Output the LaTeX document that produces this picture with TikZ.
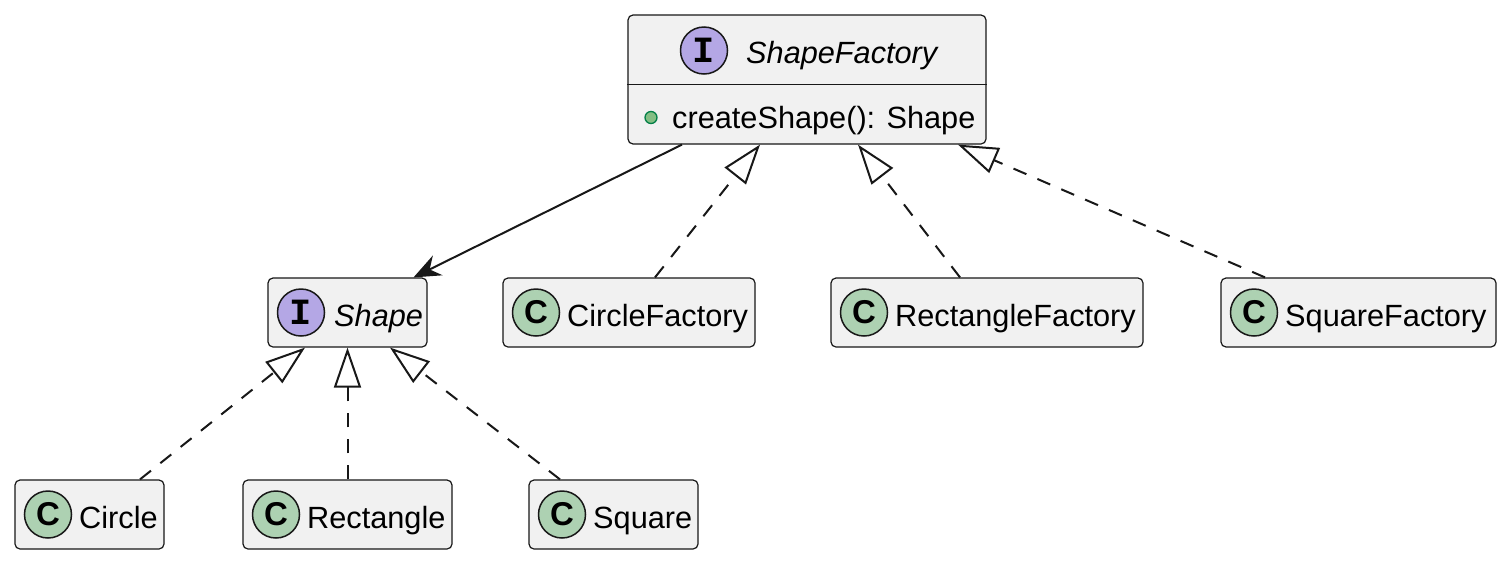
\documentclass[tikz,border=0pt]{standalone}
\usepackage{fontspec}
\setmainfont{Liberation Sans}
\newfontfamily\monof{Liberation Mono}
\usetikzlibrary{arrows.meta}
\definecolor{lineC}{HTML}{181818}
\definecolor{boxC}{HTML}{F1F1F1}
\definecolor{classC}{HTML}{ADD1B2}
\definecolor{ifaceC}{HTML}{B4A7E5}
\definecolor{dotF}{HTML}{84BE84}
\definecolor{dotD}{HTML}{038048}
\newcommand\lbfont{\fontsize{30.7}{36}\selectfont}
\newcommand\cglyphfont{\bfseries\fontsize{33}{36}\selectfont}
\newcommand\iglyphfont{\monof\bfseries\fontsize{37}{40}\selectfont}
\tikzset{
  box/.style={draw=lineC, fill=boxC, rounded corners=5pt, line width=1.2pt,
    minimum height=69pt, inner sep=0pt, rectangle},
  cls/.style={circle, draw=lineC, fill=classC, line width=1.5pt,
    minimum size=47pt, inner sep=0pt, font=\cglyphfont, text=black},
  ifc/.style={cls, fill=ifaceC, font=\iglyphfont},
  lbl/.style={anchor=base west, inner sep=0pt, font=\lbfont, text=black},
  realize/.style={draw=lineC, line width=2pt, dash pattern=on 14pt off 12pt,
    -{Triangle[length=40pt,width=27pt,fill=white]}},
  assoc/.style={draw=lineC, line width=2pt,
    -{Stealth[length=27pt,width=22pt,inset=9pt]}},
}
\begin{document}
\begin{tikzpicture}[x=1pt,y=-1pt]
\fill[white] (0,0) rectangle (1506,563);
\useasboundingbox (0,0) rectangle (1506,563);

% ShapeFactory
\node[box, minimum width=358pt, minimum height=129pt] (sf) at (807,79.5) {};
\draw[draw=lineC, line width=1.2pt] ([yshift=-70pt]sf.north west) -- ([yshift=-70pt]sf.north east);
\node[ifc] (sfI) at (704,50.5) {I};
\node[lbl, font=\lbfont\itshape] (sfT) at (746,63) {ShapeFactory};
\node[circle, draw=dotD, fill=dotF, line width=1.3pt, minimum size=12pt, inner sep=0pt] (sfD) at (651,117.5) {};
\node[lbl] (sfM) at (672,128) {createShape(): Shape};

% second row
\node[box, minimum width=159pt] (shape) at (347.5,312.5) {};
\node[ifc] (shapeI) at (301,312.5) {I};
\node[lbl, font=\lbfont\itshape] (shapeT) at (334,326) {Shape};

\node[box, minimum width=252pt] (cf) at (629,312.5) {};
\node[cls] (cfC) at (536,312.5) {C};
\node[lbl] (cfT) at (567,326) {CircleFactory};

\node[box, minimum width=312pt] (rf) at (987,312.5) {};
\node[cls] (rfC) at (864,312.5) {C};
\node[lbl] (rfT) at (895,326) {RectangleFactory};

\node[box, minimum width=275pt] (sqf) at (1358.5,312.5) {};
\node[cls] (sqfC) at (1254,312.5) {C};
\node[lbl] (sqfT) at (1285,326) {SquareFactory};

% third row
\node[box, minimum width=149pt] (circ) at (89.5,514.5) {};
\node[cls] (circC) at (48,514.5) {C};
\node[lbl] (circT) at (79,528) {Circle};

\node[box, minimum width=209pt] (rect) at (347.5,514.5) {};
\node[cls] (rectC) at (276,514.5) {C};
\node[lbl] (rectT) at (307,528) {Rectangle};

\node[box, minimum width=169pt] (sq) at (613.5,514.5) {};
\node[cls] (sqC) at (562,514.5) {C};
\node[lbl] (sqT) at (593,528) {Square};

% connectors
\draw[assoc] ([xshift=-125pt]sf.south) -- ([xshift=66pt]shape.north);
\draw[realize] ([xshift=26pt]cf.north) -- ([xshift=-47pt]sf.south);
\draw[realize] ([xshift=-27pt]rf.north) -- ([xshift=51pt]sf.south);
\draw[realize] ([xshift=-93.5pt]sqf.north) -- ([xshift=151pt]sf.south);
\draw[realize] ([xshift=50.5pt]circ.north) -- ([xshift=-42.5pt]shape.south);
\draw[realize] (rect.north) -- (shape.south);
\draw[realize] ([xshift=-53.5pt]sq.north) -- ([xshift=42.5pt]shape.south);
\end{tikzpicture}
\end{document}
